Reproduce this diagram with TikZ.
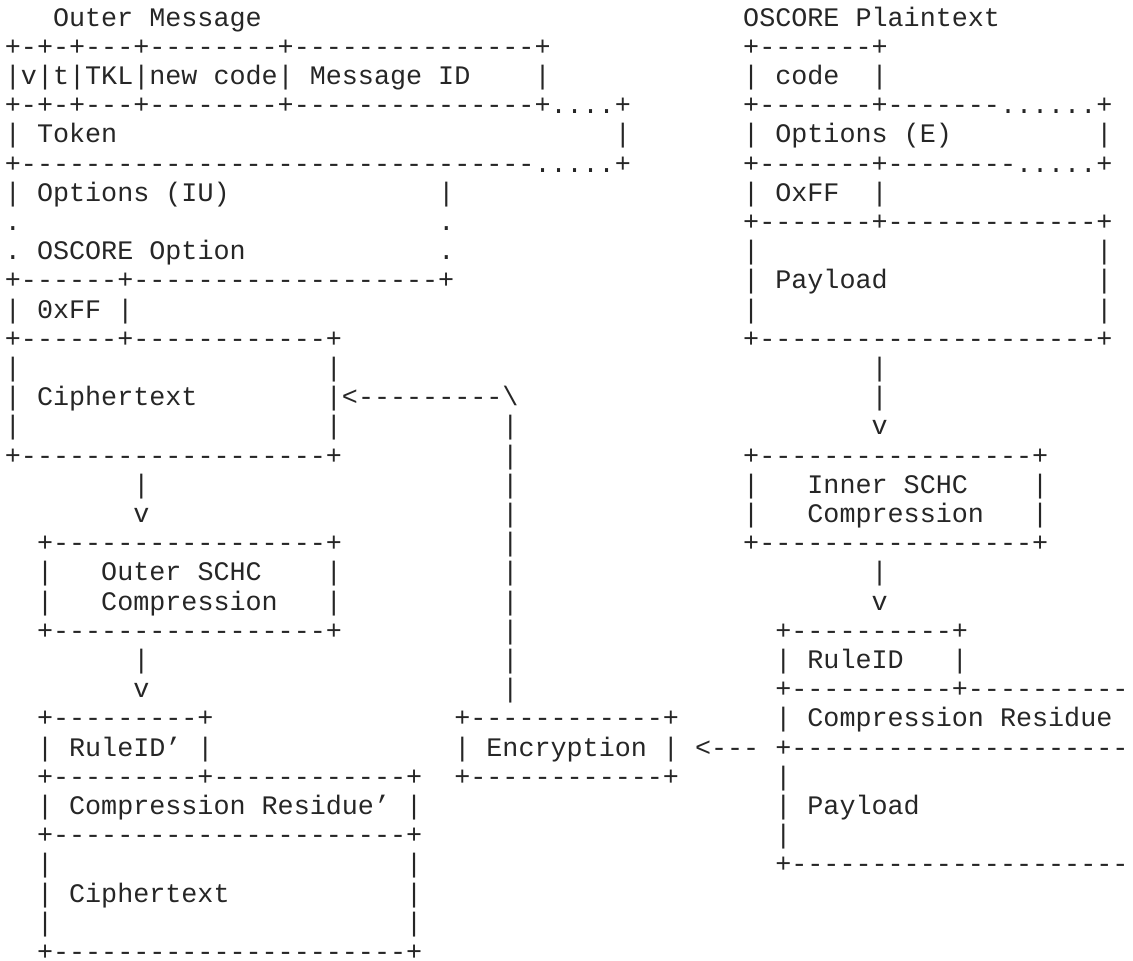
\documentclass[tikz,border=0pt]{standalone}
\usepackage{fontspec}
\setmonofont{Liberation Mono}
% character grid: column width, left origin, first baseline, line pitch
\newcommand\cw{16.05}
\newcommand\xo{4.9}
\newcommand\yo{26}
\newcommand\lh{29.2}
% \seg{name}{row}{column}{text}
\newcommand\seg[4]{\node[ascii] (#1) at ({\xo+#3*\cw},{-(\yo+(#2-1)*\lh)}) {#4};}
\tikzset{
  ascii/.style={anchor=base west, inner sep=0pt, outer sep=0pt, text depth=0pt,
    font=\ttfamily\fontsize{26.75}{29.25}\selectfont, text=black!85}
}
\begin{document}
\begin{tikzpicture}[x=1pt,y=1pt]
\useasboundingbox (0,0) rectangle (1133,-961);
% row 1: titles
\seg{r1a}{1}{3}{Outer Message}
\seg{r1b}{1}{46}{OSCORE Plaintext}
% rows 2-12: outer message header and OSCORE plaintext
\seg{r2a}{2}{0}{+-+-+---+--------+---------------+}
\seg{r2b}{2}{46}{+-------+}
\seg{r3a}{3}{0}{|v|t|TKL|new code| Message ID}
\seg{r3b}{3}{33}{|}
\seg{r3c}{3}{46}{| code}
\seg{r3d}{3}{54}{|}
\seg{r4a}{4}{0}{+-+-+---+--------+---------------+....+}
\seg{r4b}{4}{46}{+-------+-------......+}
\seg{r5a}{5}{0}{| Token}
\seg{r5b}{5}{38}{|}
\seg{r5c}{5}{46}{| Options (E)}
\seg{r5d}{5}{68}{|}
\seg{r6a}{6}{0}{+--------------------------------.....+}
\seg{r6b}{6}{46}{+-------+--------.....+}
\seg{r7a}{7}{0}{| Options (IU)}
\seg{r7b}{7}{27}{|}
\seg{r7c}{7}{46}{| OxFF}
\seg{r7d}{7}{54}{|}
\seg{r8a}{8}{0}{.}
\seg{r8b}{8}{27}{.}
\seg{r8c}{8}{46}{+-------+-------------+}
\seg{r9a}{9}{0}{. OSCORE Option}
\seg{r9b}{9}{27}{.}
\seg{r9c}{9}{46}{|}
\seg{r9d}{9}{68}{|}
\seg{r10a}{10}{0}{+------+-------------------+}
\seg{r10b}{10}{46}{| Payload}
\seg{r10c}{10}{68}{|}
\seg{r11a}{11}{0}{| 0xFF |}
\seg{r11b}{11}{46}{|}
\seg{r11c}{11}{68}{|}
\seg{r12a}{12}{0}{+------+------------+}
\seg{r12b}{12}{46}{+---------------------+}
% rows 13-16: ciphertext box, inner compression arrow
\seg{r13a}{13}{0}{|}
\seg{r13b}{13}{20}{|}
\seg{r13c}{13}{54}{|}
\seg{r14a}{14}{0}{| Ciphertext}
\seg{r14b}{14}{20}{|<---------\textbackslash}
\seg{r14c}{14}{54}{|}
\seg{r15a}{15}{0}{|}
\seg{r15b}{15}{20}{|}
\seg{r15c}{15}{31}{|}
\seg{r15d}{15}{54}{v}
\seg{r16a}{16}{0}{+-------------------+}
\seg{r16b}{16}{31}{|}
\seg{r16c}{16}{46}{+-----------------+}
% rows 17-24: SCHC compression stages
\seg{r17a}{17}{8}{|}
\seg{r17b}{17}{31}{|}
\seg{r17c}{17}{46}{|}
\seg{r17d}{17}{50}{Inner SCHC}
\seg{r17e}{17}{64}{|}
\seg{r18a}{18}{8}{v}
\seg{r18b}{18}{31}{|}
\seg{r18c}{18}{46}{|}
\seg{r18d}{18}{50}{Compression}
\seg{r18e}{18}{64}{|}
\seg{r19a}{19}{2}{+-----------------+}
\seg{r19b}{19}{31}{|}
\seg{r19c}{19}{46}{+-----------------+}
\seg{r20a}{20}{2}{|}
\seg{r20b}{20}{6}{Outer SCHC}
\seg{r20c}{20}{20}{|}
\seg{r20d}{20}{31}{|}
\seg{r20e}{20}{54}{|}
\seg{r21a}{21}{2}{|}
\seg{r21b}{21}{6}{Compression}
\seg{r21c}{21}{20}{|}
\seg{r21d}{21}{31}{|}
\seg{r21e}{21}{54}{v}
\seg{r22a}{22}{2}{+-----------------+}
\seg{r22b}{22}{31}{|}
\seg{r22c}{22}{48}{+----------+}
\seg{r23a}{23}{8}{|}
\seg{r23b}{23}{31}{|}
\seg{r23c}{23}{48}{| RuleID}
\seg{r23d}{23}{59}{|}
\seg{r24a}{24}{8}{v}
\seg{r24b}{24}{31}{|}
\seg{r24c}{24}{48}{+----------+----------}
% rows 25-33: compressed packets and encryption
\seg{r25a}{25}{2}{+---------+}
\seg{r25b}{25}{28}{+------------+}
\seg{r25c}{25}{48}{| Compression Residue}
\seg{r26a}{26}{2}{| RuleID’ |}
\seg{r26b}{26}{28}{| Encryption |}
\seg{r26c}{26}{43}{<---}
\seg{r26d}{26}{48}{+---------------------}
\seg{r27a}{27}{2}{+---------+------------+}
\seg{r27b}{27}{28}{+------------+}
\seg{r27c}{27}{48}{|}
\seg{r28a}{28}{2}{| Compression Residue’ |}
\seg{r28b}{28}{48}{| Payload}
\seg{r29a}{29}{2}{+----------------------+}
\seg{r29b}{29}{48}{|}
\seg{r30a}{30}{2}{|}
\seg{r30b}{30}{25}{|}
\seg{r30c}{30}{48}{+---------------------}
\seg{r31a}{31}{2}{| Ciphertext}
\seg{r31b}{31}{25}{|}
\seg{r32a}{32}{2}{|}
\seg{r32b}{32}{25}{|}
\seg{r33a}{33}{2}{+----------------------+}
\end{tikzpicture}
\end{document}
